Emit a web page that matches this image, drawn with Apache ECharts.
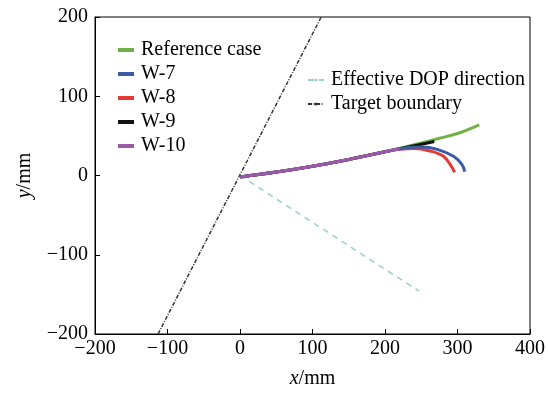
<!DOCTYPE html>
<html><head><meta charset="utf-8">
<script src="https://cdn.jsdelivr.net/npm/echarts@6/dist/echarts.min.js"></script>
<style>html,body{margin:0;padding:0;background:#fff}#c{width:548px;height:394px}</style>
</head><body><div id="c"></div>
<script>
// Data (x/mm, y/mm)
const refX = [0, 25, 50, 75, 100, 125, 150, 175, 200, 225, 250, 275, 300, 330];
const refY = [-2, 1, 4.3, 7.9, 11.7, 15.9, 20.3, 25, 30, 35.3, 41, 47, 53, 64];
const w7X = [0, 50, 100, 150, 200, 225, 250, 272, 295, 306, 310];
const w7Y = [-2, 4.3, 11.7, 20.3, 30, 34.5, 36, 33, 24, 14, 5];
const w8X = [0, 50, 100, 150, 200, 220, 240, 262, 281, 292, 296];
const w8Y = [-2, 4.3, 11.7, 20.3, 30, 33, 34, 31, 24, 11, 4];
const w9X = [0, 50, 100, 150, 200, 235, 268];
const w9Y = [-2, 4.3, 11.7, 20.3, 30, 36.5, 43];
const w10X = [0, 50, 100, 150, 200, 220];
const w10Y = [-2, 4.3, 11.7, 20.3, 30, 34];
const dopX = [0, 247];
const dopY = [0, -146];
const tbX = [-113, 112];
const tbY = [-200, 200];
const xTicks = [-200, 400, 100];
const yTicks = [-200, 200, 100];

const zip = (a, b) => a.map((v, i) => [v, b[i]]);
const F = "'Liberation Serif', 'DejaVu Serif', serif";
const txt = {fontFamily: F, fontSize: 20, color: '#000'};
const minus = v => String(v).replace('-', '\u2212');

function curve(name, xs, ys, color, z) {
  return {name, type: 'line', data: zip(xs, ys), symbol: 'none', smooth: 0.4, z,
    lineStyle: {color, width: 3}, itemStyle: {color}};
}

const chart = echarts.init(document.getElementById('c'), null, {renderer: 'canvas'});
chart.setOption({
  animation: false,
  backgroundColor: '#fff',
  grid: {left: 95, right: 14, top: 17, bottom: 59, show: true, borderColor: '#000', borderWidth: 1},
  xAxis: {
    type: 'value', min: xTicks[0], max: xTicks[1], interval: xTicks[2],
    name: '{i|x}/mm', nameLocation: 'middle', nameGap: 35,
    nameTextStyle: Object.assign({}, txt, {rich: {i: {fontFamily: F, fontSize: 20, fontStyle: 'italic', color: '#000'}}}),
    axisLine: {show: true, onZero: false, lineStyle: {color: '#000', width: 1}},
    axisTick: {show: true, inside: true, length: 5, lineStyle: {color: '#000'}},
    axisLabel: Object.assign({}, txt, {margin: 5, formatter: minus}),
    splitLine: {show: false}
  },
  yAxis: {
    type: 'value', min: yTicks[0], max: yTicks[1], interval: yTicks[2],
    name: '{i|y}/mm', nameLocation: 'middle', nameGap: 60, nameRotate: 90,
    nameTextStyle: Object.assign({}, txt, {rich: {i: {fontFamily: F, fontSize: 20, fontStyle: 'italic', color: '#000'}}}),
    axisLine: {show: true, onZero: false, lineStyle: {color: '#000', width: 1}},
    axisTick: {show: true, inside: true, length: 5, lineStyle: {color: '#000'}},
    axisLabel: Object.assign({}, txt, {margin: 7, formatter: minus}),
    splitLine: {show: false}
  },
  legend: [
    {data: ['Reference case', 'W-7', 'W-8', 'W-9', 'W-10'], orient: 'vertical', left: 113, top: 35,
     icon: 'rect', itemWidth: 16, itemHeight: 4, itemGap: 4, textStyle: Object.assign({}, txt, {padding: [0, 0, 0, 2]})},
    {data: ['Effective DOP direction', 'Target boundary'], orient: 'vertical', left: 302, top: 65,
     itemWidth: 16, itemHeight: 4, itemGap: 4, textStyle: Object.assign({}, txt, {padding: [0, 0, 0, 2]})}
  ],
  series: [
    {name: 'Target boundary', type: 'line', data: zip(tbX, tbY), symbol: 'none', z: 2,
     lineStyle: {color: '#333', width: 1.5, type: [4, 1.5, 1, 1.5]}, itemStyle: {color: '#333'}},
    {name: 'Effective DOP direction', type: 'line', data: zip(dopX, dopY), symbol: 'none', z: 2,
     lineStyle: {color: '#96d0d0', width: 1.5, type: [6, 5]}, itemStyle: {color: '#96d0d0'}},
    curve('Reference case', refX, refY, '#72b147', 3),
    curve('W-9', w9X, w9Y, '#111111', 4),
    curve('W-8', w8X, w8Y, '#e53935', 5),
    curve('W-7', w7X, w7Y, '#3a5ca8', 6),
    curve('W-10', w10X, w10Y, '#9b5aa8', 7)
  ]
});
</script></body></html>
